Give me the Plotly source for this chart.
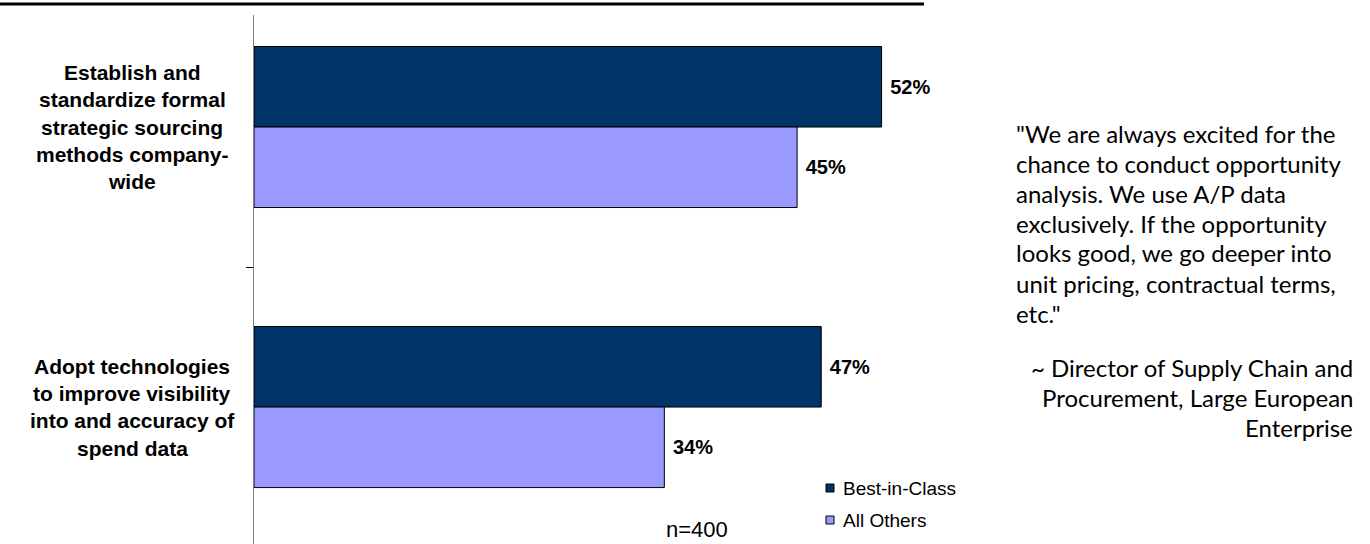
import plotly.graph_objects as go

# ---- data ----
categories = [
    "Establish and<br>standardize formal<br>strategic sourcing<br>methods company-<br>wide",
    "Adopt technologies<br>to improve visibility<br>into and accuracy of<br>spend data",
]
series_names = ["Best-in-Class", "All Others"]
best_in_class = [52, 47]
all_others = [45, 34]
sample_note = "n=400"
quote_lines = [
    '"We are always excited for the',
    "chance to conduct opportunity",
    "analysis. We use A/P data",
    "exclusively. If the opportunity",
    "looks good, we go deeper into",
    "unit pricing, contractual terms,",
    'etc."',
]
attribution_lines = [
    "~ Director of Supply Chain and",
    "Procurement, Large European",
    "Enterprise",
]

# ---- styles / layout helpers ----
W, H = 1370, 544
ML, MR, MT, MB = 254, 416, 15, 0
PW, PH = W - ML - MR, H - MT - MB
colors = ["#003366", "#9999FF"]
cat_keys = ["c0", "c1"]


def px_x(x):
    return (x - ML) / PW


def px_y(y):
    return (H - MB - y) / PH


fig = go.Figure()
for name, vals, col in zip(series_names, [best_in_class, all_others], colors):
    fig.add_trace(go.Bar(
        y=cat_keys, x=vals, name=name, orientation="h",
        marker=dict(color=col, line=dict(color="#000000", width=1)),
        text=[f"{v}%" for v in vals], textposition="outside",
        textfont=dict(family="Liberation Sans", size=20, color="#000000"),
        texttemplate="\u00a0<b>%{text}</b>", cliponaxis=False,
        showlegend=False,
    ))

annotations = []
# category labels, one line each, centred on the category
line_gap = 27.3
for key, lab in zip(cat_keys, categories):
    lines = lab.split("<br>")
    n = len(lines)
    for i, ln in enumerate(lines):
        annotations.append(dict(
            xref="paper", yref="y", x=px_x(132), y=key,
            yshift=-(i - (n - 1) / 2) * line_gap,
            text=f"<b>{ln}</b>", showarrow=False,
            xanchor="center", yanchor="middle",
            font=dict(family="Liberation Sans", size=21, color="#000000"),
        ))

# quote
for i, ln in enumerate(quote_lines):
    annotations.append(dict(
        xref="paper", yref="paper", x=px_x(1014), y=px_y(133 + 30 * i),
        text=ln, showarrow=False, xanchor="left", yanchor="middle",
        font=dict(family="Lato", size=24, color="#000000"),
    ))
for i, ln in enumerate(attribution_lines):
    annotations.append(dict(
        xref="paper", yref="paper", x=px_x(1355), y=px_y(367 + 30 * i),
        text=ln, showarrow=False, xanchor="right", yanchor="middle",
        font=dict(family="Lato", size=24, color="#000000"),
    ))

# n note
annotations.append(dict(
    xref="paper", yref="paper", x=px_x(697), y=px_y(529),
    text=sample_note, showarrow=False, xanchor="center", yanchor="middle",
    font=dict(family="Liberation Sans", size=22, color="#000000"),
))

shapes = []
# custom legend
for i, (name, col) in enumerate(zip(series_names, colors)):
    yc = 488 + 32 * i
    shapes.append(dict(
        type="rect", xref="paper", yref="paper",
        x0=px_x(826), x1=px_x(834), y0=px_y(yc - 4), y1=px_y(yc + 4),
        fillcolor=col, line=dict(color="#000000", width=1),
    ))
    annotations.append(dict(
        xref="paper", yref="paper", x=px_x(841), y=px_y(yc),
        text=name, showarrow=False, xanchor="left", yanchor="middle",
        font=dict(family="Liberation Sans", size=19, color="#000000"),
    ))

# top rule
shapes.append(dict(
    type="line", xref="paper", yref="paper",
    x0=px_x(0), x1=px_x(924), y0=px_y(4), y1=px_y(4),
    line=dict(color="#000000", width=3),
))

fig.update_layout(
    width=W, height=H,
    margin=dict(l=ML, r=MR, t=MT, b=MB, pad=0),
    paper_bgcolor="white", plot_bgcolor="white",
    barmode="group", bargap=0.425, bargroupgap=0,
    showlegend=False,
    annotations=annotations, shapes=shapes,
    xaxis=dict(range=[0, 58], visible=False, fixedrange=True),
    yaxis=dict(
        categoryorder="array", categoryarray=cat_keys,
        range=[1.489, -0.4], showticklabels=False,
        showline=True, linecolor="#808080", linewidth=1,
        ticks="outside", tickson="boundaries", ticklen=7,
        tickcolor="#000000", tickwidth=1,
        showgrid=False, zeroline=False, fixedrange=True,
    ),
)

fig.write_html("out.html")
